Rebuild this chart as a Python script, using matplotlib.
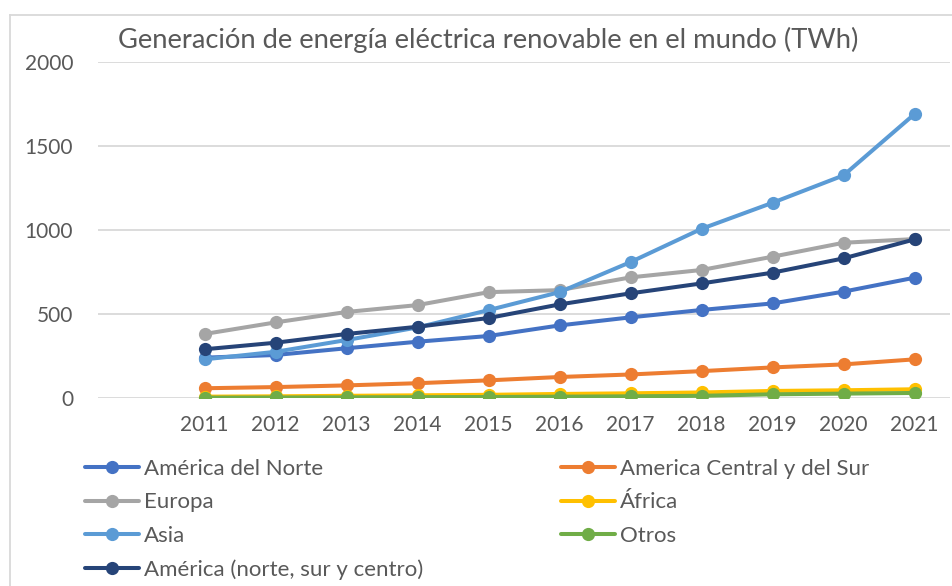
import matplotlib
matplotlib.use("Agg")
import matplotlib.pyplot as plt
from matplotlib.lines import Line2D

years = [2011, 2012, 2013, 2014, 2015, 2016, 2017, 2018, 2019, 2020, 2021]
america_norte = [240, 256, 296, 335, 369, 432, 480, 524, 563, 633, 716]
america_cs = [58, 65, 75, 88, 105, 125, 140, 160, 182, 200, 230]
europa = [381, 450, 512, 553, 630, 642, 718, 762, 841, 924, 946]
africa = [8, 10, 13, 16, 19, 24, 28, 33, 42, 46, 52]
asia = [230, 275, 345, 420, 523, 630, 809, 1007, 1162, 1325, 1690]
otros = [2, 3, 4, 5, 6, 8, 10, 13, 22, 26, 30]
america_total = [290, 329, 381, 424, 476, 557, 623, 682, 746, 831, 944]

labels = ["América del Norte", "America Central y del Sur", "Europa", "África",
          "Asia", "Otros", "América (norte, sur y centro)"]
colors = ["#4472C4", "#ED7D31", "#A5A5A5", "#FFC000", "#5B9BD5", "#70AD47", "#264478"]
series = [america_norte, america_cs, europa, africa, asia, otros, america_total]

title = "Generación de energía eléctrica renovable en el mundo (TWh)"
yticks = [0, 500, 1000, 1500, 2000]

plt.rcParams['font.family'] = ['Lato', 'DejaVu Sans']
text_color = "#595959"

W, H = 952, 586
fig = plt.figure(figsize=(W / 100, H / 100), dpi=100)
ax = fig.add_axes([98 / W, 1 - 398 / H, (950 - 98) / W, (398 - 62) / H])

lw = 2.9
ms = 9.5
handles = {}
for lab, col, vals in zip(labels, colors, series):
    ln, = ax.plot(years, vals, color=col, lw=lw, marker='o', ms=ms,
                  markeredgewidth=0, solid_capstyle='round', label=lab, zorder=3)
    handles[lab] = ln

ax.set_xlim(2009.5, 2021.5)
ax.set_ylim(0, 2000)
ax.set_yticks(yticks)
ax.set_xticks(years)
ax.set_xticklabels([str(y) for y in years])
ax.grid(axis='y', color='#D9D9D9', lw=1.3, zorder=0)
ax.grid(axis='x', visible=False)
for s in ax.spines.values():
    s.set_visible(False)
ax.tick_params(axis='both', length=0, labelsize=15, colors=text_color)
ax.tick_params(axis='y', pad=18)
ax.tick_params(axis='x', pad=12)
ax.set_axisbelow(True)

fig.text(488 / W, 1 - 40 / H, title, ha='center', va='center',
         fontsize=19.7, color=text_color)

# chart border
fig.add_artist(Line2D([10 / W, 1], [1 - 15 / H, 1 - 15 / H], color='#D9D9D9', lw=1.3,
                      transform=fig.transFigure))
fig.add_artist(Line2D([10 / W, 10 / W], [0, 1 - 15 / H], color='#D9D9D9', lw=1.3,
                      transform=fig.transFigure))

col1 = [labels[0], labels[2], labels[4], labels[6]]
col2 = [labels[1], labels[3], labels[5]]
common = dict(frameon=False, fontsize=16, handlelength=2.45, handletextpad=0.2,
              labelspacing=0.6, labelcolor=text_color, borderpad=0, borderaxespad=0)
leg1 = fig.legend([handles[l] for l in col1], col1, loc='upper left',
                  bbox_to_anchor=(85 / W, 1 - 459 / H), **common)
leg2 = fig.legend([handles[l] for l in col2], col2, loc='upper left',
                  bbox_to_anchor=(561 / W, 1 - 459 / H), **common)

fig.savefig("out.png", dpi=100)
